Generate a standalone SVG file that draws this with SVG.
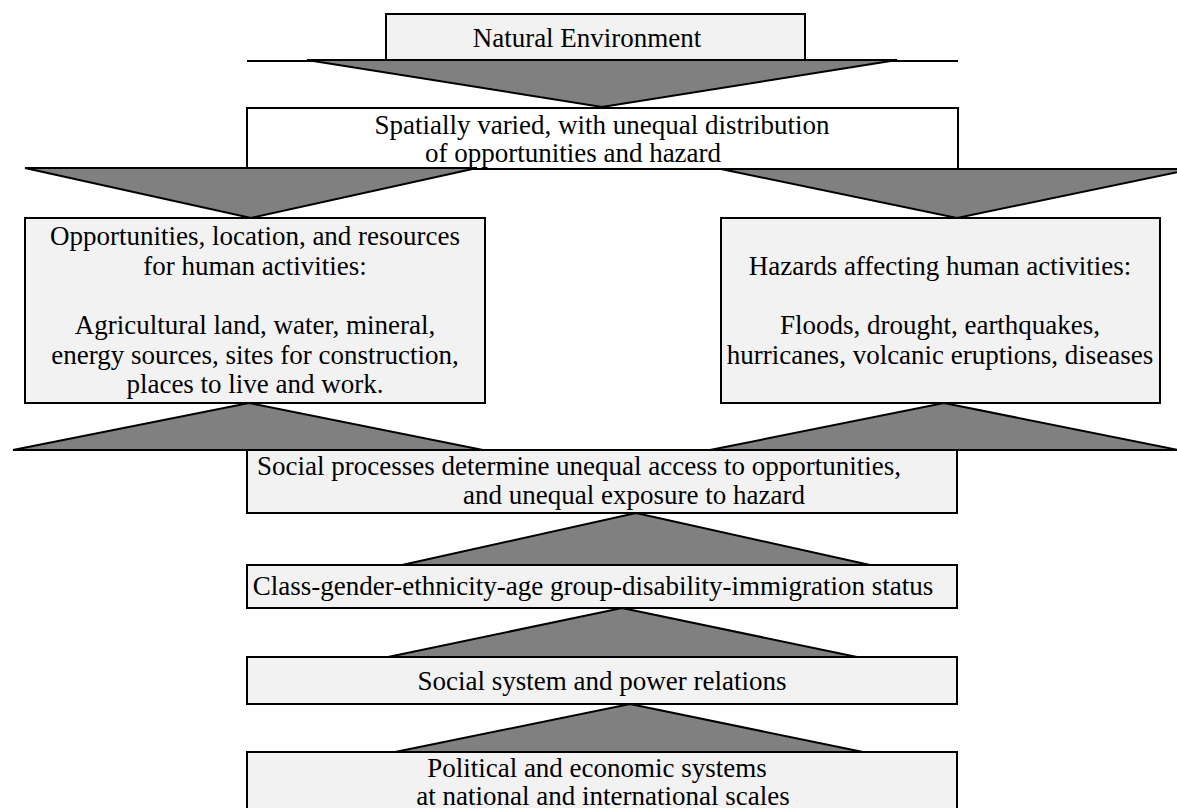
<svg xmlns="http://www.w3.org/2000/svg" width="1177" height="808" viewBox="0 0 1177 808">
<style>
.box{fill:#f2f2f2;stroke:#000;stroke-width:2}
.wbox{fill:#fff;stroke:#000;stroke-width:2}
.tri{fill:#808080;stroke:#000;stroke-width:2;stroke-linejoin:miter}
.ln{stroke:#000;stroke-width:2;fill:none}
text{font-family:"Liberation Serif","Times New Roman",serif;font-size:27px;fill:#000;text-anchor:middle}
</style>
<rect width="1177" height="808" fill="#fff"/>
<g id="n-natural"><rect class="box" x="386" y="14" width="419" height="46"/><text x="587" y="47">Natural Environment</text></g>
<g id="n-spatial"><rect class="wbox" x="247" y="108" width="711" height="61"/><text x="602" y="134">Spatially varied, with unequal distribution</text><text x="573" y="162">of opportunities and hazard</text></g>
<g id="n-opps"><rect class="box" x="25" y="218" width="460" height="185"/>
<text x="255" y="245">Opportunities, location, and resources</text>
<text x="255" y="275">for human activities:</text>
<text x="255" y="334">Agricultural land, water, mineral,</text>
<text x="255" y="364">energy sources, sites for construction,</text>
<text x="255" y="393">places to live and work.</text></g>
<g id="n-hazards"><rect class="box" x="721" y="218" width="439" height="185"/>
<text x="940" y="275">Hazards affecting human activities:</text>
<text x="940" y="334">Floods, drought, earthquakes,</text>
<text x="940" y="364">hurricanes, volcanic eruptions, diseases</text></g>
<g id="n-social"><rect class="box" x="247" y="450" width="710" height="63"/><text x="579" y="475">Social processes determine unequal access to opportunities,</text><text x="634" y="504">and unequal exposure to hazard</text></g>
<g id="n-class"><rect class="box" x="247" y="565" width="710" height="43"/><text x="593" y="595">Class-gender-ethnicity-age group-disability-immigration status</text></g>
<g id="n-system"><rect class="box" x="247" y="657" width="710" height="47"/><text x="602" y="690">Social system and power relations</text></g>
<g id="n-political"><rect class="box" x="247" y="752" width="710" height="70"/><text x="597" y="777">Political and economic systems</text><text x="603" y="805">at national and international scales</text></g>
<g id="connectors">
<line class="ln" x1="247" y1="61" x2="958" y2="61"/>
<polygon class="tri" points="307,60 897,60 602,107"/>
<polygon class="tri" points="25,168 477,168 251,218"/>
<polygon class="tri" points="721,169 1193,169 957,218"/>
<polygon class="tri" points="249,403 483,450 13,450"/>
<polygon class="tri" points="944,403 1178,450 710,450"/>
<polygon class="tri" points="636,513 870,565 402,565"/>
<polygon class="tri" points="622,608 857,657 388,657"/>
<polygon class="tri" points="630,704 863,752 395,752"/>
</g>
</svg>
